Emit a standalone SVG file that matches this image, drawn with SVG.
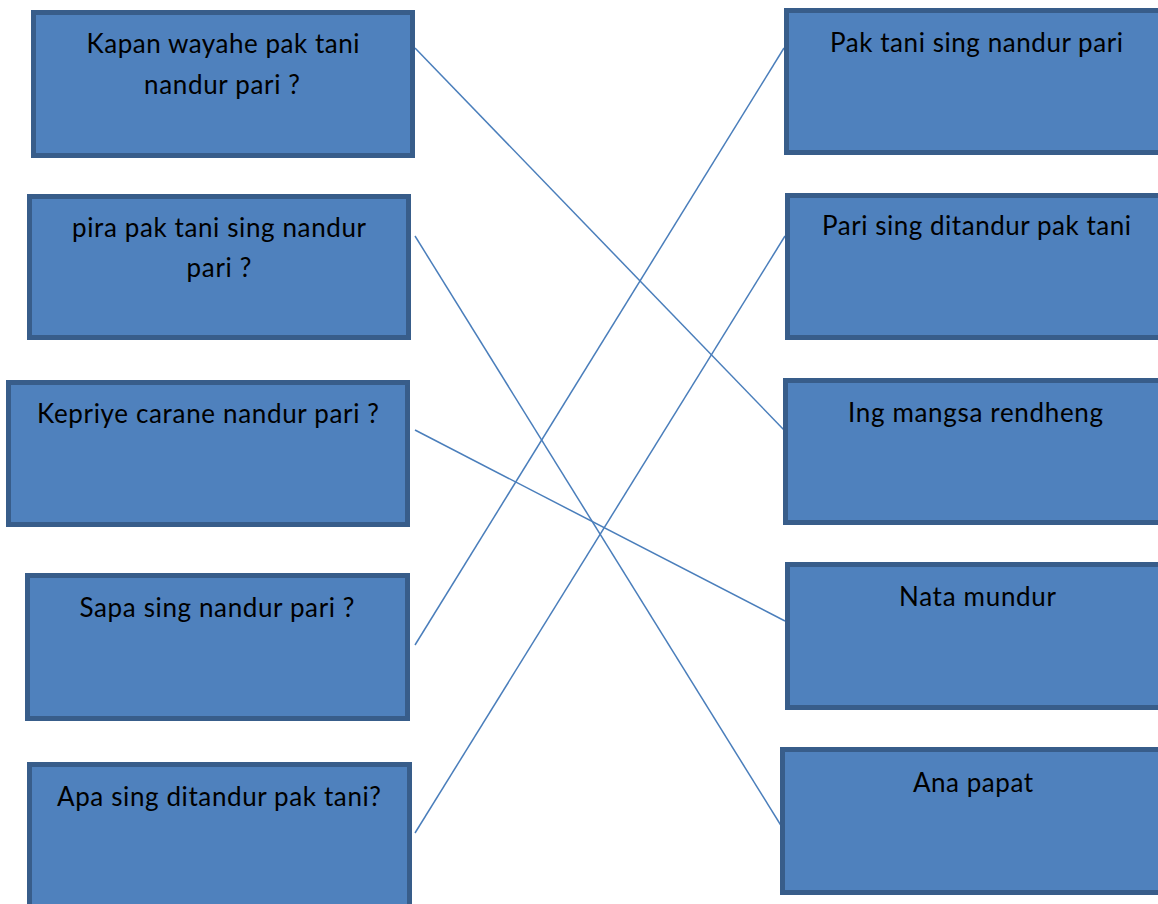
<svg xmlns="http://www.w3.org/2000/svg" width="1158" height="904" viewBox="0 0 1158 904">
<style>
.box{fill:#4F81BD;stroke:#385D8A;stroke-width:5}
.lbl{font-family:Lato,"Open Sans","Liberation Sans",sans-serif;font-size:26px;fill:#000;text-anchor:middle}
.conn line{stroke:#4A7EBB;stroke-width:1.5;fill:none}
</style>
<rect width="1158" height="904" fill="#fff"/>
<g id="connectors" class="conn">
<line x1="415" y1="48" x2="784" y2="430"/>
<line x1="415" y1="236" x2="785" y2="832"/>
<line x1="415" y1="430" x2="785" y2="621"/>
<line x1="415" y1="645" x2="784" y2="48"/>
<line x1="415" y1="833" x2="785" y2="236"/>
</g>
<g id="q1"><rect class="box" x="33.5" y="12.5" width="379" height="143"/>
<text class="lbl" x="223" y="53" textLength="273" lengthAdjust="spacing">Kapan wayahe pak tani</text>
<text class="lbl" x="222" y="94" textLength="156" lengthAdjust="spacing">nandur pari ?</text></g>
<g id="q2"><rect class="box" x="29.5" y="196.5" width="379" height="141"/>
<text class="lbl" x="219" y="237" textLength="294" lengthAdjust="spacing">pira pak tani sing nandur</text>
<text class="lbl" x="219" y="277" textLength="65" lengthAdjust="spacing">pari ?</text></g>
<g id="q3"><rect class="box" x="8.5" y="382.5" width="399" height="142"/>
<text class="lbl" x="208" y="423" textLength="342" lengthAdjust="spacing">Kepriye carane nandur pari ?</text></g>
<g id="q4"><rect class="box" x="27.5" y="575.5" width="380" height="143"/>
<text class="lbl" x="217" y="617" textLength="275" lengthAdjust="spacing">Sapa sing nandur pari ?</text></g>
<g id="q5"><rect class="box" x="29.5" y="764.5" width="380" height="145"/>
<text class="lbl" x="219" y="806" textLength="324" lengthAdjust="spacing">Apa sing ditandur pak tani?</text></g>
<g id="a1"><rect class="box" x="786.5" y="10.5" width="385" height="142"/>
<text class="lbl" x="976.5" y="52" textLength="293" lengthAdjust="spacing">Pak tani sing nandur pari</text></g>
<g id="a2"><rect class="box" x="787.5" y="195.5" width="385" height="142"/>
<text class="lbl" x="976.5" y="235" textLength="309" lengthAdjust="spacing">Pari sing ditandur pak tani</text></g>
<g id="a3"><rect class="box" x="785.5" y="380.5" width="385" height="142"/>
<text class="lbl" x="975.5" y="422" textLength="255" lengthAdjust="spacing">Ing mangsa rendheng</text></g>
<g id="a4"><rect class="box" x="787.5" y="564.5" width="385" height="143"/>
<text class="lbl" x="977.5" y="606" textLength="157" lengthAdjust="spacing">Nata mundur</text></g>
<g id="a5"><rect class="box" x="782.5" y="749.5" width="390" height="143"/>
<text class="lbl" x="973" y="792" textLength="120" lengthAdjust="spacing">Ana papat</text></g>
</svg>
